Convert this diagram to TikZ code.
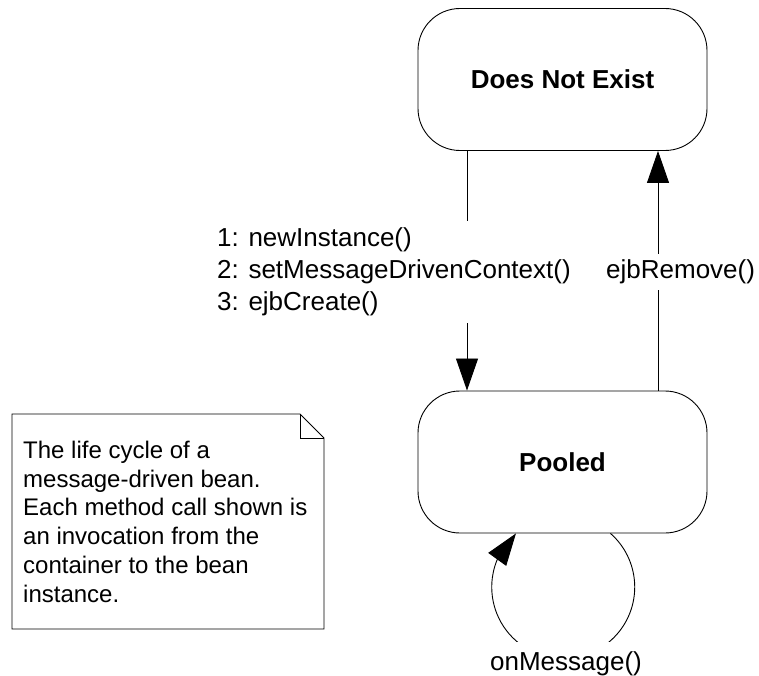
\documentclass[tikz,border=0pt]{standalone}
\usepackage{fontspec}
\setmainfont{Liberation Sans}
\usepackage{xcolor}
\usepackage{tikz}
\usetikzlibrary{arrows.meta,bending}
\definecolor{LCInk}{HTML}{000000}
\definecolor{LCPaper}{HTML}{FFFFFF}

\begin{document}
\begin{tikzpicture}[x=1pt,y=1pt,
  state/.style={draw=LCInk,line width=0.9pt,rounded corners=42pt,minimum width=289pt,minimum height=142pt,font=\fontsize{26}{32}\selectfont\bfseries},
  call/.style={align=left,inner xsep=0pt,inner ysep=6pt,font=\fontsize{26}{32}\selectfont},
  wire/.style={draw=LCInk,line width=0.9pt},
  trans/.style={wire,-{Triangle[length=32pt,width=22pt]}}]
\path[use as bounding box] (0,0) rectangle (759,675);
\node[state] (dne) at (562.5,595.5) {Does Not Exist};
\node[state] (pooled) at (562.5,213) {Pooled};
\node[call,anchor=west,inner ysep=7pt] (create) at (217,403) {1: newInstance()\\2: setMessageDrivenContext()\\3: ejbCreate()};
\node[call,anchor=west] (remove) at (606,403) {ejbRemove()};
\coordinate (dneL) at ([xshift=-95.5pt]dne.south);
\coordinate (dneR) at ([xshift=95.5pt]dne.south);
\coordinate (poolL) at ([xshift=-95.5pt]pooled.north);
\coordinate (poolR) at ([xshift=95.5pt]pooled.north);
\draw[wire] (dneL) -- (dneL |- create.north);
\draw[trans] (poolL |- create.south) -- (poolL);
\draw[wire] (poolR) -- (poolR |- remove.south);
\draw[trans] (poolR |- remove.north) -- (dneR);
\draw[trans] ([xshift=48pt]pooled.south) arc[start angle=48.6,end angle=-228.6,radius=71.5pt];
\node[call,fill=LCPaper,inner ysep=10pt] (msg) at (566,11) {onMessage()};
\draw[wire] (12,46) -- (12,261) -- (300,261) -- (324,237) -- (324,46) -- cycle;
\draw[wire] (300,261) -- (300,237) -- (324,237);
\node[anchor=north west,align=left,inner sep=0pt,font=\fontsize{24}{28.7}\selectfont] (note) at (23,234) {The life cycle of a\\message-driven bean.\\Each method call shown is\\an invocation from the\\container to the bean\\instance.};
\end{tikzpicture}
\end{document}
